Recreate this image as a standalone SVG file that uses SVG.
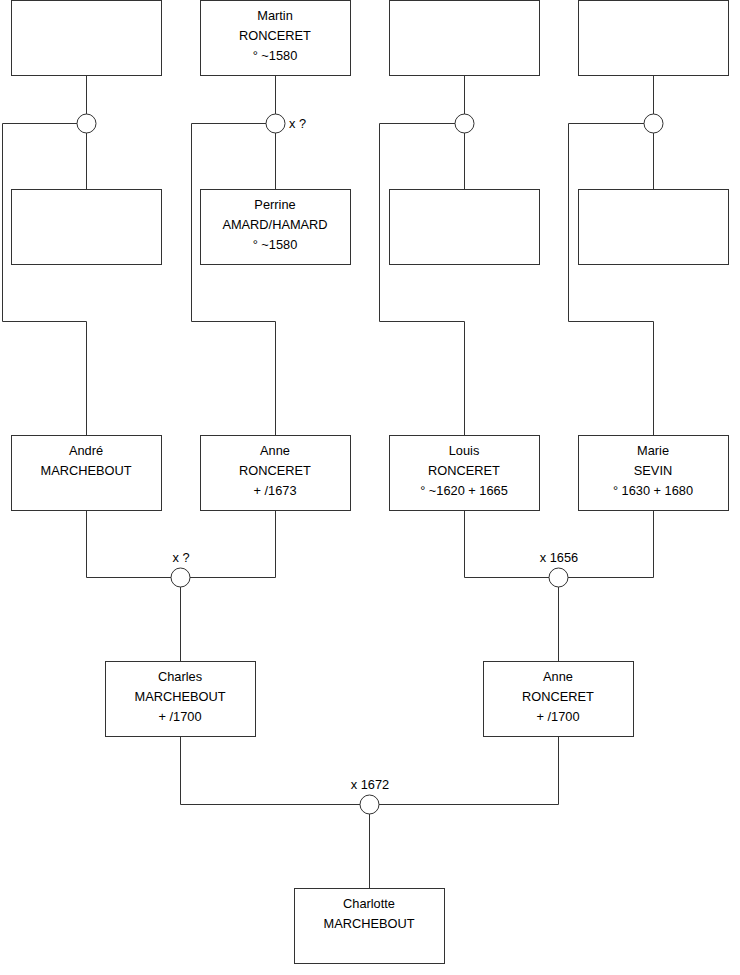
<svg xmlns="http://www.w3.org/2000/svg" width="740" height="975" viewBox="0 0 740 975">
<style>
.box{fill:#fff;stroke:#333;stroke-width:1}
.ln{fill:none;stroke:#333;stroke-width:1}
.ring{fill:#fff;stroke:#333;stroke-width:1}
text{font-family:"Liberation Sans",Arial,sans-serif;font-size:12.8px;fill:#000;text-anchor:middle}
</style>
<rect width="740" height="975" fill="#fff"/>
<g id="connectors">
<path class="ln" d="M86.5 75.5V189.5M2.5 123.5H77M2.5 123.5V321.5H86.5V435.5"/>
<path class="ln" d="M275.5 75.5V189.5M191.5 123.5H266M191.5 123.5V321.5H275.5V435.5"/>
<path class="ln" d="M464.5 75.5V189.5M379.5 123.5H455M379.5 123.5V321.5H464.5V435.5"/>
<path class="ln" d="M653.5 75.5V189.5M568.5 123.5H644M568.5 123.5V321.5H653.5V435.5"/>
<path class="ln" d="M86.5 510.5V577.5H275.5V510.5M180.5 577.5V661.5"/>
<path class="ln" d="M464.5 510.5V577.5H653.5V510.5M558.5 577.5V661.5"/>
<path class="ln" d="M180.5 736.5V804.5H558.5V736.5M369.5 804.5V888.5"/>
</g>
<g id="circles">
<circle class="ring" cx="86.5" cy="123.5" r="9.5"/>
<circle class="ring" cx="275.5" cy="123.5" r="9.5"/>
<circle class="ring" cx="464.5" cy="123.5" r="9.5"/>
<circle class="ring" cx="653.5" cy="123.5" r="9.5"/>
<circle class="ring" cx="180.5" cy="577.5" r="9.5"/>
<circle class="ring" cx="558.5" cy="577.5" r="9.5"/>
<circle class="ring" cx="369.5" cy="804.5" r="9.5"/>
</g>
<g id="labels">
<text x="289" y="128" style="text-anchor:start">x ?</text>
<text x="181" y="562">x ?</text>
<text x="559" y="562">x 1656</text>
<text x="370" y="789">x 1672</text>
</g>
<g id="n1"><rect class="box" x="11.5" y="0.5" width="150" height="75"/></g>
<g id="n2"><rect class="box" x="200.5" y="0.5" width="150" height="75"/>
<text x="275" y="20">Martin</text><text x="275" y="40">RONCERET</text><text x="275" y="60">° ~1580</text></g>
<g id="n3"><rect class="box" x="389.5" y="0.5" width="150" height="75"/></g>
<g id="n4"><rect class="box" x="578.5" y="0.5" width="150" height="75"/></g>
<g id="n5"><rect class="box" x="11.5" y="189.5" width="150" height="75"/></g>
<g id="n6"><rect class="box" x="200.5" y="189.5" width="150" height="75"/>
<text x="275" y="209">Perrine</text><text x="275" y="229">AMARD/HAMARD</text><text x="275" y="249">° ~1580</text></g>
<g id="n7"><rect class="box" x="389.5" y="189.5" width="150" height="75"/></g>
<g id="n8"><rect class="box" x="578.5" y="189.5" width="150" height="75"/></g>
<g id="n9"><rect class="box" x="11.5" y="435.5" width="150" height="75"/>
<text x="86" y="455">André</text><text x="86" y="475">MARCHEBOUT</text></g>
<g id="n10"><rect class="box" x="200.5" y="435.5" width="150" height="75"/>
<text x="275" y="455">Anne</text><text x="275" y="475">RONCERET</text><text x="275" y="495">+ /1673</text></g>
<g id="n11"><rect class="box" x="389.5" y="435.5" width="150" height="75"/>
<text x="464" y="455">Louis</text><text x="464" y="475">RONCERET</text><text x="464" y="495">° ~1620 + 1665</text></g>
<g id="n12"><rect class="box" x="578.5" y="435.5" width="150" height="75"/>
<text x="653" y="455">Marie</text><text x="653" y="475">SEVIN</text><text x="653" y="495">° 1630 + 1680</text></g>
<g id="n13"><rect class="box" x="105.5" y="661.5" width="150" height="75"/>
<text x="180" y="681">Charles</text><text x="180" y="701">MARCHEBOUT</text><text x="180" y="721">+ /1700</text></g>
<g id="n14"><rect class="box" x="483.5" y="661.5" width="150" height="75"/>
<text x="558" y="681">Anne</text><text x="558" y="701">RONCERET</text><text x="558" y="721">+ /1700</text></g>
<g id="n15"><rect class="box" x="294.5" y="888.5" width="150" height="75"/>
<text x="369" y="908">Charlotte</text><text x="369" y="928">MARCHEBOUT</text></g>
</svg>
